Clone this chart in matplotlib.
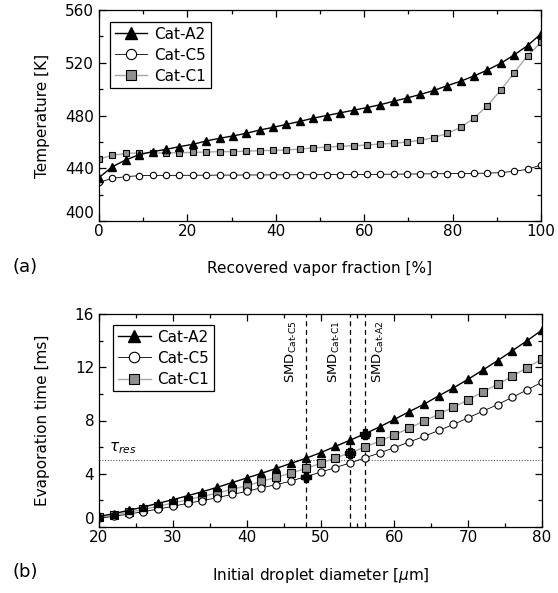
import matplotlib
matplotlib.use("Agg")
import matplotlib.pyplot as plt
from matplotlib.ticker import MultipleLocator

plt.rcParams['font.family'] = ['DejaVu Sans']

# ---------------- data: panel (a) ----------------
frac = [0, 3.03, 6.06, 9.09, 12.12, 15.15, 18.18, 21.21, 24.24, 27.27, 30.30, 33.33,
        36.36, 39.39, 42.42, 45.45, 48.48, 51.52, 54.55, 57.58, 60.61, 63.64, 66.67,
        69.70, 72.73, 75.76, 78.79, 81.82, 84.85, 87.88, 90.91, 93.94, 96.97, 100]
temp_A2 = [432.9, 441.2, 446.3, 450.3, 452.6, 454.3, 456.4, 458.1, 460.7, 462.7, 464.5,
           466.5, 469.0, 471.0, 473.3, 475.5, 478.0, 480.0, 482.0, 484.0, 486.0, 488.2,
           490.8, 493.3, 496.0, 499.0, 502.6, 506.0, 510.0, 514.5, 519.6, 526.0, 533.0, 542.0]
temp_C5 = [429.3, 432.4, 433.6, 434.4, 434.6, 434.6, 434.6, 434.7, 434.7, 434.8, 434.8,
           434.9, 434.9, 435.0, 435.0, 435.1, 435.1, 435.2, 435.2, 435.3, 435.3, 435.4,
           435.5, 435.6, 435.7, 435.8, 435.9, 436.0, 436.1, 436.3, 436.7, 437.7, 439.2, 442.5]
temp_C1 = [447.0, 449.8, 451.3, 451.6, 451.6, 451.6, 451.8, 452.0, 452.3, 452.6, 452.6,
           453.0, 453.3, 453.6, 453.8, 454.6, 455.4, 456.1, 456.6, 457.1, 457.6, 458.4,
           458.9, 459.9, 461.2, 463.2, 466.5, 471.0, 478.0, 487.5, 499.3, 512.5, 525.4, 535.5]

# ---------------- data: panel (b) ----------------
diam = [20, 22, 24, 26, 28, 30, 32, 34, 36, 38, 40, 42, 44, 46, 48, 50,
        52, 54, 56, 58, 60, 62, 64, 66, 68, 70, 72, 74, 76, 78, 80]
tevap_A2 = [0.80, 1.00, 1.25, 1.50, 1.78, 2.05, 2.35, 2.65, 2.98, 3.33, 3.68, 4.03, 4.40,
            4.78, 5.16, 5.58, 6.05, 6.52, 7.00, 7.52, 8.08, 8.66, 9.22, 9.85, 10.45,
            11.10, 11.80, 12.50, 13.25, 14.00, 14.80]
tevap_C5 = [0.65, 0.80, 0.97, 1.15, 1.35, 1.55, 1.78, 1.98, 2.20, 2.45, 2.67, 2.95, 3.18,
            3.45, 3.78, 4.12, 4.46, 4.81, 5.19, 5.56, 5.96, 6.38, 6.80, 7.25, 7.70,
            8.20, 8.70, 9.20, 9.75, 10.30, 10.88]
tevap_C1 = [0.72, 0.90, 1.10, 1.32, 1.55, 1.80, 2.05, 2.30, 2.55, 2.83, 3.10, 3.43, 3.73,
            4.05, 4.40, 4.78, 5.18, 5.58, 6.00, 6.45, 6.92, 7.42, 7.95, 8.47, 9.00,
            9.55, 10.15, 10.72, 11.33, 11.98, 12.62]
smd_names = ['Cat-C5', 'Cat-C1', 'Cat-A2']
smd_values = [48, 54, 56]
smd_times = [3.78, 5.58, 7.00]
tau_res = 5.0

W, H = 558, 593
fig = plt.figure(figsize=(W / 100, H / 100), dpi=100)

def axbox(l, r, t, b):
    return [l / W, (H - b) / H, (r - l) / W, (b - t) / H]

ax1 = fig.add_axes(axbox(99, 541, 10, 221))
ax2 = fig.add_axes(axbox(99, 542, 314, 527))

gray_line = '#a8a8a8'
gray_fill = '#8f8f8f'

def style(ax):
    for s in ax.spines.values():
        s.set_linewidth(0.9)
    ax.tick_params(which='both', direction='in', top=True, right=True, width=0.9,
                   labelsize=11)
    ax.tick_params(which='major', length=5)
    ax.tick_params(which='minor', length=3)
    ax.tick_params(axis='x', pad=2)
    ax.tick_params(axis='y', pad=3.5)

# ---- panel (a)
lC1, = ax1.plot(frac, temp_C1, color=gray_line, lw=1.0, marker='s', ms=4.6,
                mfc=gray_fill, mec='black', mew=0.8, label='Cat-C1')
lC5, = ax1.plot(frac, temp_C5, color='black', lw=0.6, marker='o', ms=4.6,
                mfc='white', mec='black', mew=0.8, label='Cat-C5')
lA2, = ax1.plot(frac, temp_A2, color='black', lw=1.0, marker='^', ms=5.6,
                mfc='black', mec='black', label='Cat-A2')
ax1.set_xlim(0, 100)
ax1.set_ylim(400, 560)
ax1.xaxis.set_major_locator(MultipleLocator(20))
ax1.xaxis.set_minor_locator(MultipleLocator(10))
ax1.yaxis.set_major_locator(MultipleLocator(40))
ax1.yaxis.set_minor_locator(MultipleLocator(20))
style(ax1)
ax1.set_xlabel('Recovered vapor fraction [%]', fontsize=11)
ax1.set_ylabel('Temperature [K]', fontsize=11)
ax1.xaxis.set_label_coords(0.5, -0.19)
ax1.yaxis.set_label_coords(-0.111, 0.5)
leg1 = ax1.legend(handles=[lA2, lC5, lC1], loc='upper left', bbox_to_anchor=(0.025, 0.943),
                  borderaxespad=0, fontsize=11, frameon=True, fancybox=False,
                  edgecolor='black', framealpha=1, markerscale=1.6, handlelength=2.15,
                  handletextpad=0.45, labelspacing=0.4, borderpad=0.3)
leg1.get_frame().set_linewidth(0.9)

# ---- panel (b)
mC1, = ax2.plot(diam, tevap_C1, color=gray_line, lw=1.0, marker='s', ms=5.2,
                mfc=gray_fill, mec='black', mew=0.8, label='Cat-C1')
mC5, = ax2.plot(diam, tevap_C5, color='black', lw=0.6, marker='o', ms=5.2,
                mfc='white', mec='black', mew=0.8, label='Cat-C5')
mA2, = ax2.plot(diam, tevap_A2, color='black', lw=1.0, marker='^', ms=6.2,
                mfc='black', mec='black', label='Cat-A2')
for v in smd_values:
    ax2.axvline(v, color='black', lw=0.9, ls=(0, (4, 3)), zorder=1)
ax2.axhline(tau_res, color='#555555', lw=0.8, ls=(0, (1, 1.5)), zorder=1)
ax2.plot(smd_values, smd_times, ls='none', marker='P', ms=7, color='black', zorder=5)
smd_text_x = [46.0, 51.9, 57.8]
for name, tx in zip(smd_names, smd_text_x):
    ax2.text(tx, 15.55, r'SMD$_{\text{' + name + r'}}$', rotation=90, ha='center',
             va='top', fontsize=9.5)
ax2.text(21.4, 5.9, r'$\tau_{res}$', ha='left', va='center', fontsize=11)
ax2.set_xlim(20, 80)
ax2.set_ylim(0, 16)
ax2.xaxis.set_major_locator(MultipleLocator(10))
ax2.xaxis.set_minor_locator(MultipleLocator(5))
ax2.yaxis.set_major_locator(MultipleLocator(4))
ax2.yaxis.set_minor_locator(MultipleLocator(2))
style(ax2)
ax2.set_xlabel(r'Initial droplet diameter [$\mu$m]', fontsize=11)
ax2.set_ylabel('Evaporation time [ms]', fontsize=11)
ax2.xaxis.set_label_coords(0.5, -0.185)
ax2.yaxis.set_label_coords(-0.111, 0.5)
leg2 = ax2.legend(handles=[mA2, mC5, mC1], loc='upper left', bbox_to_anchor=(0.032, 0.948),
                  borderaxespad=0, fontsize=11, frameon=True, fancybox=False,
                  edgecolor='black', framealpha=1, markerscale=1.45, handlelength=2.15,
                  handletextpad=0.45, labelspacing=0.4, borderpad=0.3)
leg2.get_frame().set_linewidth(0.9)

# nudge lowest y tick labels upward (as in the original)
fig.canvas.draw()
for ax, lowest in ((ax1, 400), (ax2, 0)):
    for tick in ax.yaxis.get_major_ticks():
        if abs(tick.get_loc() - lowest) < 1e-9:
            tick.label1.set_va('bottom')

fig.text(12 / W, 1 - 267 / H, '(a)', fontsize=13, ha='left', va='center')
fig.text(12 / W, 1 - 572 / H, '(b)', fontsize=13, ha='left', va='center')

fig.savefig('out.png', dpi=100)
